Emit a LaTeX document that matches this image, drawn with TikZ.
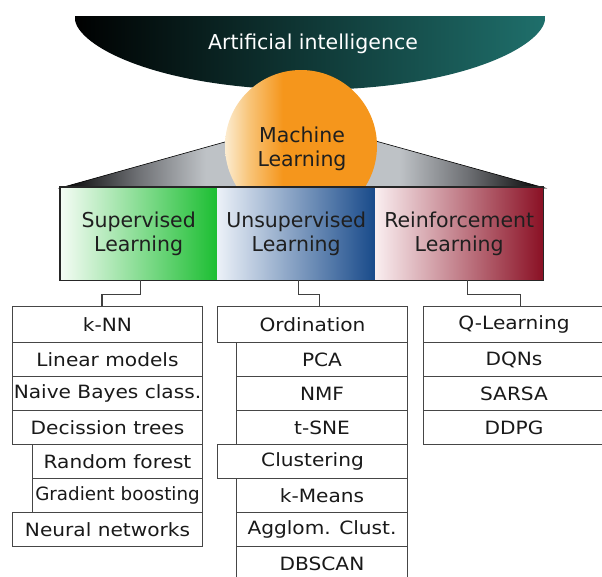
\documentclass[tikz,border=0pt]{standalone}
\usepackage{fontspec}
\setmainfont{DejaVu Sans}
\newfontfamily\listfontfam{DejaVu Sans}[FakeStretch=1.1]
\usetikzlibrary{calc}
\definecolor{aiTeal}{RGB}{31,112,108}
\definecolor{mlLight}{RGB}{252,236,208}
\definecolor{mlMid}{RGB}{248,196,120}
\definecolor{mlOrange}{RGB}{245,150,28}
\definecolor{supGreen}{RGB}{28,190,50}
\definecolor{supLight}{RGB}{245,252,245}
\definecolor{unsBlue}{RGB}{24,74,138}
\definecolor{unsLight}{RGB}{236,241,248}
\definecolor{reiRed}{RGB}{138,16,36}
\definecolor{reiLight}{RGB}{250,238,240}
\definecolor{rowline}{RGB}{70,70,70}
\definecolor{trapDark}{RGB}{0,0,0}
\definecolor{trapMid}{RGB}{110,112,116}
\definecolor{trapLight}{RGB}{190,194,198}
\pgfdeclarehorizontalshading{trapshade}{100bp}{color(0bp)=(trapDark); color(25bp)=(trapDark); color(33bp)=(trapMid); color(40bp)=(trapLight); color(50bp)=(trapLight); color(60bp)=(trapLight); color(67bp)=(trapMid); color(75bp)=(trapDark); color(100bp)=(trapDark)}
\pgfdeclarehorizontalshading{mlshade}{100bp}{color(0bp)=(mlLight); color(25bp)=(mlLight); color(33bp)=(mlMid); color(44bp)=(mlOrange); color(75bp)=(mlOrange); color(100bp)=(mlOrange)}
\newcommand\listfont{\listfontfam\fontsize{18.3}{20}\selectfont}
\newcommand\bigfont{\fontsize{20.5}{24.5}\selectfont}
\tikzset{
  cat/.style={anchor=north west, minimum height=93pt, inner sep=0pt, align=center, text=black!88, font=\bigfont},
  row/.style={draw=rowline, line width=1pt, anchor=north west, minimum height=34pt, inner sep=0pt, text=black!90, font=\listfont},
  conn/.style={draw=black!75, line width=1.3pt}
}
\begin{document}
\begin{tikzpicture}[x=1pt,y=-1pt]
\useasboundingbox (0,0) rectangle (602,576);
\clip (0,0) rectangle (602,576);
% AI banner
\shade[left color=black, right color=aiTeal] (75,16) -- (545,16) .. controls (549,42) and (470,89) .. (310,90) .. controls (150,89) and (71,42) .. (75,16) -- cycle;
\node[text=white, font=\bigfont] (ai) at (313,44) {Artificial intelligence};
% trapezoid
\shadedraw[shading=trapshade, draw=black, line width=0.6pt] (60,188) -- (232,140) -- (372,140) -- (545,188) -- cycle;
% ML circle
\shade[shading=mlshade] (301,146) circle (76pt);
\node[align=center, text=black!88, font=\bigfont] (ml) at (302,149) {Machine\\Learning};
% categories
\node[cat, left color=supLight, right color=supGreen, minimum width=157pt] (sup) at (60,187) {Supervised\\Learning};
\node[cat, left color=unsLight, right color=unsBlue, minimum width=158pt] (uns) at (217,187) {Unsupervised\\Learning};
\node[cat, left color=reiLight, right color=reiRed, minimum width=168pt] (rei) at (375,187) {Reinforcement\\Learning};
\draw[line width=1.6pt, black!85] (sup.north west) rectangle (rei.south east);
% supervised list
\node[row, minimum width=190pt, minimum height=36pt] (knn) at (12,306) {k-NN};
\node[row, minimum width=190pt] (lin) at (12,342) {Linear models};
\node[row, minimum width=190pt] (nb) at (12,376) {Naive Bayes class.};
\node[row, minimum width=190pt] (dt) at (12,410) {Decission trees};
\node[row, minimum width=170pt] (rf) at (32,444) {Random forest};
\node[row, minimum width=170pt, font=\fontsize{18.3}{20}\selectfont] (gb) at (32,478) {Gradient boosting};
\node[row, minimum width=190pt] (nn) at (12,512) {Neural networks};
% unsupervised list
\node[row, minimum width=190pt, minimum height=36pt] (ord) at (217,306) {Ordination};
\node[row, minimum width=171pt] (pca) at (236,342) {PCA};
\node[row, minimum width=171pt] (nmf) at (236,376) {NMF};
\node[row, minimum width=171pt] (tsne) at (236,410) {t-SNE};
\node[row, minimum width=190pt] (clu) at (217,444) {Clustering};
\node[row, minimum width=171pt] (km) at (236,478) {k-Means};
\node[row, minimum width=171pt] (agg) at (236,512) {Agglom. Clust.};
\node[row, minimum width=171pt, minimum height=44pt, text depth=10pt] (db) at (236,546) {DBSCAN};
% reinforcement list
\node[row, minimum width=181pt, minimum height=36pt] (ql) at (423,306) {Q-Learning};
\node[row, minimum width=181pt] (dqn) at (423,342) {DQNs};
\node[row, minimum width=181pt] (sarsa) at (423,376) {SARSA};
\node[row, minimum width=181pt] (ddpg) at (423,410) {DDPG};
% connectors
\draw[conn] ([xshift=1.5pt]sup.south) -- ++(0,14) -| ([xshift=-5.5pt]knn.north);
\draw[conn] ([xshift=2pt]uns.south) -- ++(0,14) -| ([xshift=7pt]ord.north);
\draw[conn] ([xshift=8pt]rei.south) -- ++(0,14) -| ([xshift=6.5pt]ql.north);
\end{tikzpicture}
\end{document}
